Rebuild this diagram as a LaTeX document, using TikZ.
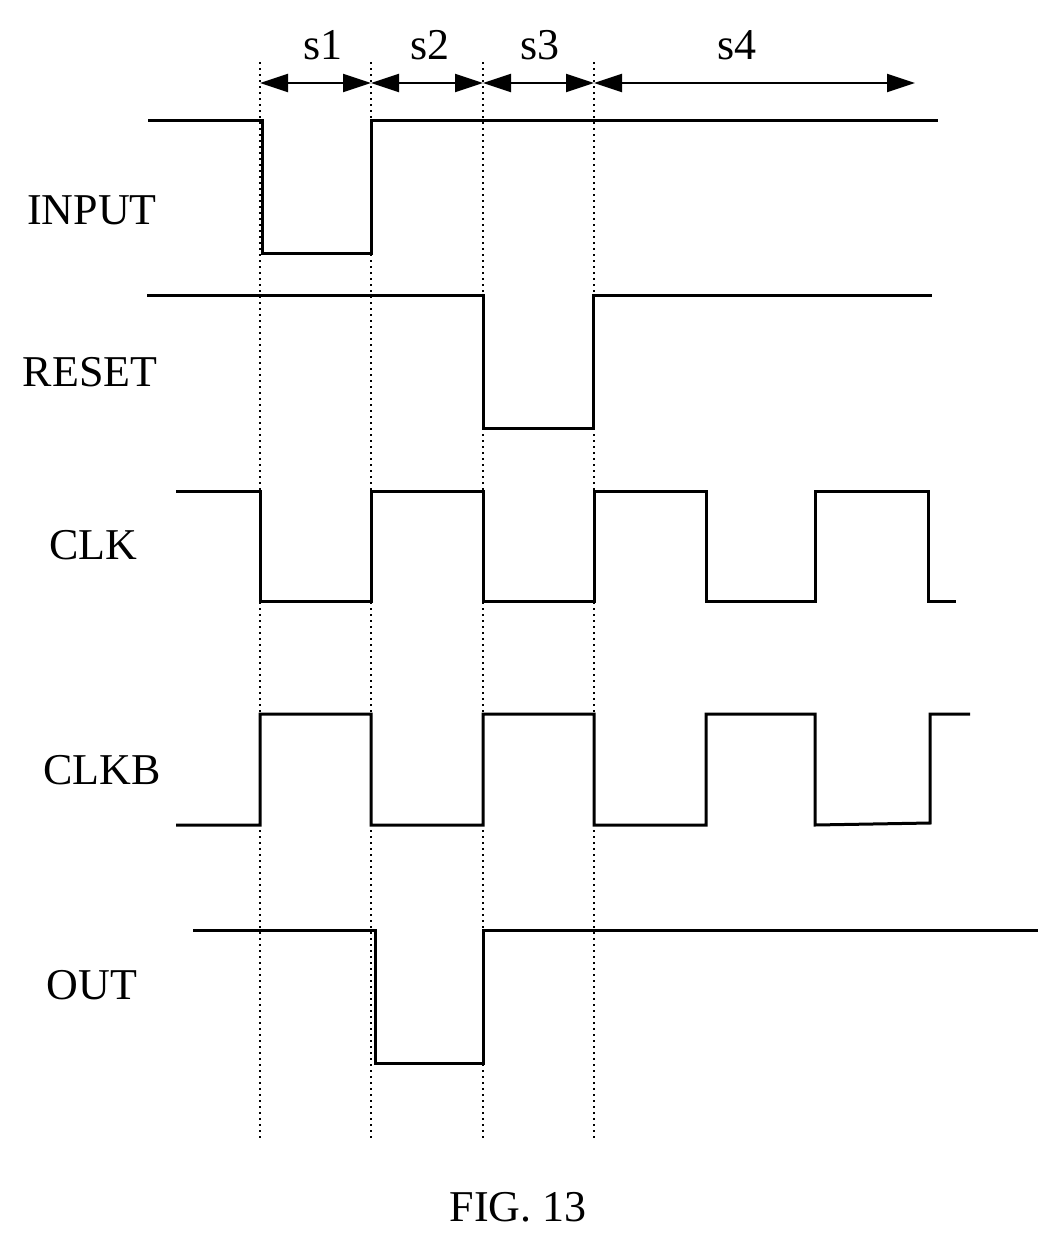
\documentclass[tikz,border=0pt]{standalone}
\usepackage{fontspec}
\setmainfont{Liberation Serif}
\usetikzlibrary{arrows.meta}
\begin{document}
\begin{tikzpicture}[x=1pt,y=-1pt,
 sig/.style={line width=3pt},
 dot/.style={line width=2pt,dash pattern=on 2pt off 4pt},
 arr/.style={line width=2pt,{Triangle[length=28pt,width=18pt]}-{Triangle[length=28pt,width=18pt]}},
 lbl/.style={font=\fontsize{44}{50}\selectfont}]
\useasboundingbox (0,0) rectangle (1059,1243);
\foreach \x/\n in {260/a,371/b,483/c,594/d}{
 \coordinate (\n t) at (\x,62); \coordinate (\n b) at (\x,1138);
 \draw[dot] (\n t) -- (\n b);}
\coordinate (p1) at (260,83); \coordinate (p2) at (371,83);
\coordinate (p3) at (483,83); \coordinate (p4) at (594,83);
\coordinate (p5) at (915,83);
\draw[arr] (p1) -- (p2); \draw[arr] (p2) -- (p3);
\draw[arr] (p3) -- (p4); \draw[arr] (p4) -- (p5);
\node[lbl] (s1) at (323,45) {s1};
\node[lbl] (s2) at (430,45) {s2};
\node[lbl] (s3) at (540,45) {s3};
\node[lbl] (s4) at (737,45) {s4};
\node[lbl] (in) at (92,210) {INPUT};
\node[lbl] (rs) at (90,372) {RESET};
\node[lbl] (ck) at (93,545) {CLK};
\node[lbl] (cb) at (102,770) {CLKB};
\node[lbl] (ou) at (92,985) {OUT};
\node[lbl] (fig) at (518,1207) {FIG. 13};
\draw[sig] (148,120) -- (262,120) -- (262,253) -- (371,253) -- (371,120) -- (938,120);
\draw[sig] (147,295) -- (483,295) -- (483,428) -- (593,428) -- (593,295) -- (932,295);
\draw[sig] (176,491) -- (260,491) -- (260,601) -- (371,601) -- (371,491) -- (483,491) -- (483,601) -- (594,601) -- (594,491) -- (706,491) -- (706,601) -- (815,601) -- (815,491) -- (928,491) -- (928,601) -- (956,601);
\draw[sig] (176,825) -- (260,825) -- (260,714) -- (371,714) -- (371,825) -- (483,825) -- (483,714) -- (594,714) -- (594,825) -- (706,825) -- (706,714) -- (815,714) -- (815,825) -- (930,823) -- (930,714) -- (970,714);
\draw[sig] (193,930) -- (375,930) -- (375,1063) -- (483,1063) -- (483,930) -- (1038,930);
\end{tikzpicture}
\end{document}
